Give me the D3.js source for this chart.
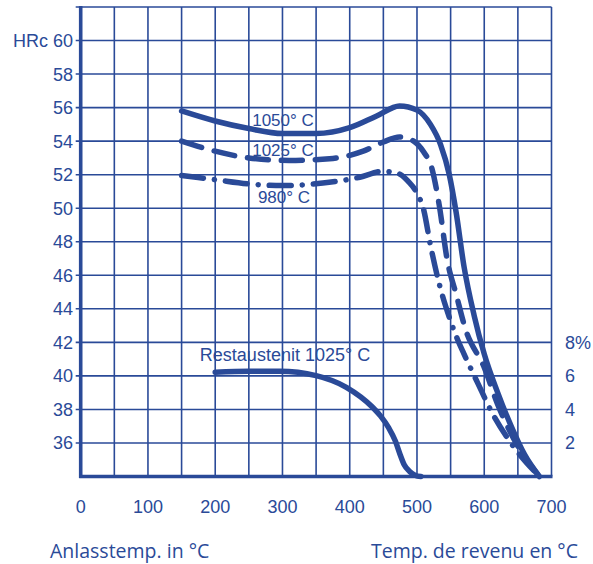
<!DOCTYPE html>
<html>
<head>
<meta charset="utf-8">
<script src="https://cdn.jsdelivr.net/npm/d3@7"></script>
<style>
  html, body { margin: 0; padding: 0; background: #fff; }
  svg { display: block; }
</style>
</head>
<body>
<svg id="chart" width="593" height="564"></svg>
<script>
// ---------- data ----------
const xTicks = [0, 100, 200, 300, 400, 500, 600, 700];
const yTicks = [36, 38, 40, 42, 44, 46, 48, 50, 52, 54, 56, 58, 60];
const pctTicks = [2, 4, 6, 8];

const t1050 = [150, 200, 250, 300, 350, 400, 440, 474, 500, 520, 535, 548, 558, 570, 585, 600, 620, 640, 660, 682];
const h1050 = [55.8, 55.2, 54.75, 54.45, 54.45, 54.8, 55.5, 56.1, 55.85, 55.0, 53.8, 52.0, 49.8, 46.5, 43.6, 41.3, 39.0, 37.0, 35.3, 34.0];

const t1025 = [150, 200, 250, 310, 370, 420, 450, 474, 495, 510, 522, 533, 545, 558, 572, 600, 620, 648, 682];
const h1025 = [54.0, 53.4, 53.0, 52.85, 52.95, 53.4, 53.95, 54.25, 54.0, 53.35, 52.4, 50.2, 46.9, 44.9, 42.8, 40.5, 38.3, 35.95, 34.0];

const t980 = [150, 200, 250, 300, 360, 415, 449, 470, 487, 500, 510, 520, 533, 548, 560, 570, 590, 613, 637, 682];
const h980 = [51.95, 51.7, 51.45, 51.35, 51.5, 51.85, 52.2, 52.1, 51.6, 50.9, 49.9, 47.8, 45.5, 43.5, 42.2, 41.3, 39.6, 37.7, 36.15, 34.0];

const tRest = [200, 250, 296, 350, 395, 434, 446, 458, 468, 475, 481, 489, 497, 506];
const pRest = [6.22, 6.27, 6.28, 6.02, 5.32, 4.13, 3.6, 2.9, 2.1, 1.3, 0.7, 0.3, 0.08, 0.0];

// ---------- drawing ----------
const blue = "#2a4a98";
const svg = d3.select("#chart");
const x = d3.scaleLinear().domain([0, 700]).range([80.7, 551.5]);
const y = d3.scaleLinear().domain([34, 62]).range([476.5, 7]);
const yPct = d3.scaleLinear().domain([0, 28]).range([476.5, 7]);

const g = svg.append("g");

// vertical grid lines (every 50 °C)
const vLines = d3.range(50, 701, 50);
g.selectAll("line.v").data(vLines).join("line")
  .attr("x1", d => x(d)).attr("x2", d => x(d))
  .attr("y1", y(62)).attr("y2", y(34))
  .attr("stroke", blue).attr("stroke-width", 1.6);

// horizontal grid lines
const hLines = d3.range(36, 62.1, 2);
g.selectAll("line.h").data(hLines).join("line")
  .attr("x1", x(0) - 5).attr("x2", x(700))
  .attr("y1", d => y(d)).attr("y2", d => y(d))
  .attr("stroke", blue).attr("stroke-width", 1.6);

// axes frame
g.append("line").attr("x1", x(0)).attr("x2", x(0)).attr("y1", y(62) - 1).attr("y2", y(34) + 1.5)
  .attr("stroke", blue).attr("stroke-width", 3.6);
g.append("line").attr("x1", x(0) - 1.5).attr("x2", x(700) + 1).attr("y1", y(34)).attr("y2", y(34))
  .attr("stroke", blue).attr("stroke-width", 3.4);

// y tick labels
const font = "'Liberation Sans', Arial, sans-serif";
g.selectAll("text.yl").data(yTicks).join("text")
  .attr("x", 73).attr("y", d => y(d)).attr("dy", "0.36em")
  .attr("text-anchor", "end").attr("fill", blue)
  .style("font-family", font).style("font-size", "18px")
  .text(d => d === 60 ? "HRc 60" : d);

// x tick labels
g.selectAll("text.xl").data(xTicks).join("text")
  .attr("x", d => x(d)).attr("y", 507).attr("dy", "0.36em")
  .attr("text-anchor", "middle").attr("fill", blue)
  .style("font-family", font).style("font-size", "18px")
  .text(d => d);

// right % labels
g.selectAll("text.pl").data(pctTicks).join("text")
  .attr("x", 565).attr("y", d => yPct(d)).attr("dy", "0.36em")
  .attr("text-anchor", "start").attr("fill", blue)
  .style("font-family", font).style("font-size", "18px")
  .text(d => d === 8 ? "8%" : d);

// curves
const line = d3.line().x(d => x(d[0])).y(d => y(d[1])).curve(d3.curveMonotoneX);
const linePct = d3.line().x(d => x(d[0])).y(d => yPct(d[1])).curve(d3.curveMonotoneX);

function addCurve(ts, hs, dash, gen) {
  g.append("path")
    .datum(ts.map((t, i) => [t, hs[i]]))
    .attr("d", gen || line)
    .attr("fill", "none").attr("stroke", blue)
    .attr("stroke-width", 5.5)
    .attr("stroke-linecap", "round").attr("stroke-linejoin", "round")
    .attr("stroke-dasharray", dash);
}
addCurve(t980, h980, "22,11,0.1,11");
addCurve(t1025, h1025, "21,13");
addCurve(t1050, h1050, null);
addCurve(tRest, pRest, null, linePct);

// curve labels
function label(txt, cx, cy, size) {
  g.append("text").attr("x", cx).attr("y", cy).attr("dy", "0.36em")
    .attr("text-anchor", "middle").attr("fill", blue)
    .style("font-family", font).style("font-size", size + "px")
    .text(txt);
}
label("1050\u00B0 C", 283, 120, 17);
label("1025\u00B0 C", 283, 150, 17);
label("980\u00B0 C", 284, 197, 17);
label("Restaustenit 1025\u00B0 C", 285, 355, 18);

// bottom titles
const font2 = "'Open Sans', 'Noto Sans', sans-serif";
svg.append("text").attr("x", 50).attr("y", 558)
  .attr("fill", blue).style("font-family", font2).style("font-size", "19.5px")
  .text("Anlasstemp. in \u00B0C");
svg.append("text").attr("x", 578).attr("y", 558).attr("text-anchor", "end")
  .attr("fill", blue).style("font-family", font2).style("font-size", "19.5px")
  .text("Temp. de revenu en \u00B0C");
</script>
</body>
</html>
